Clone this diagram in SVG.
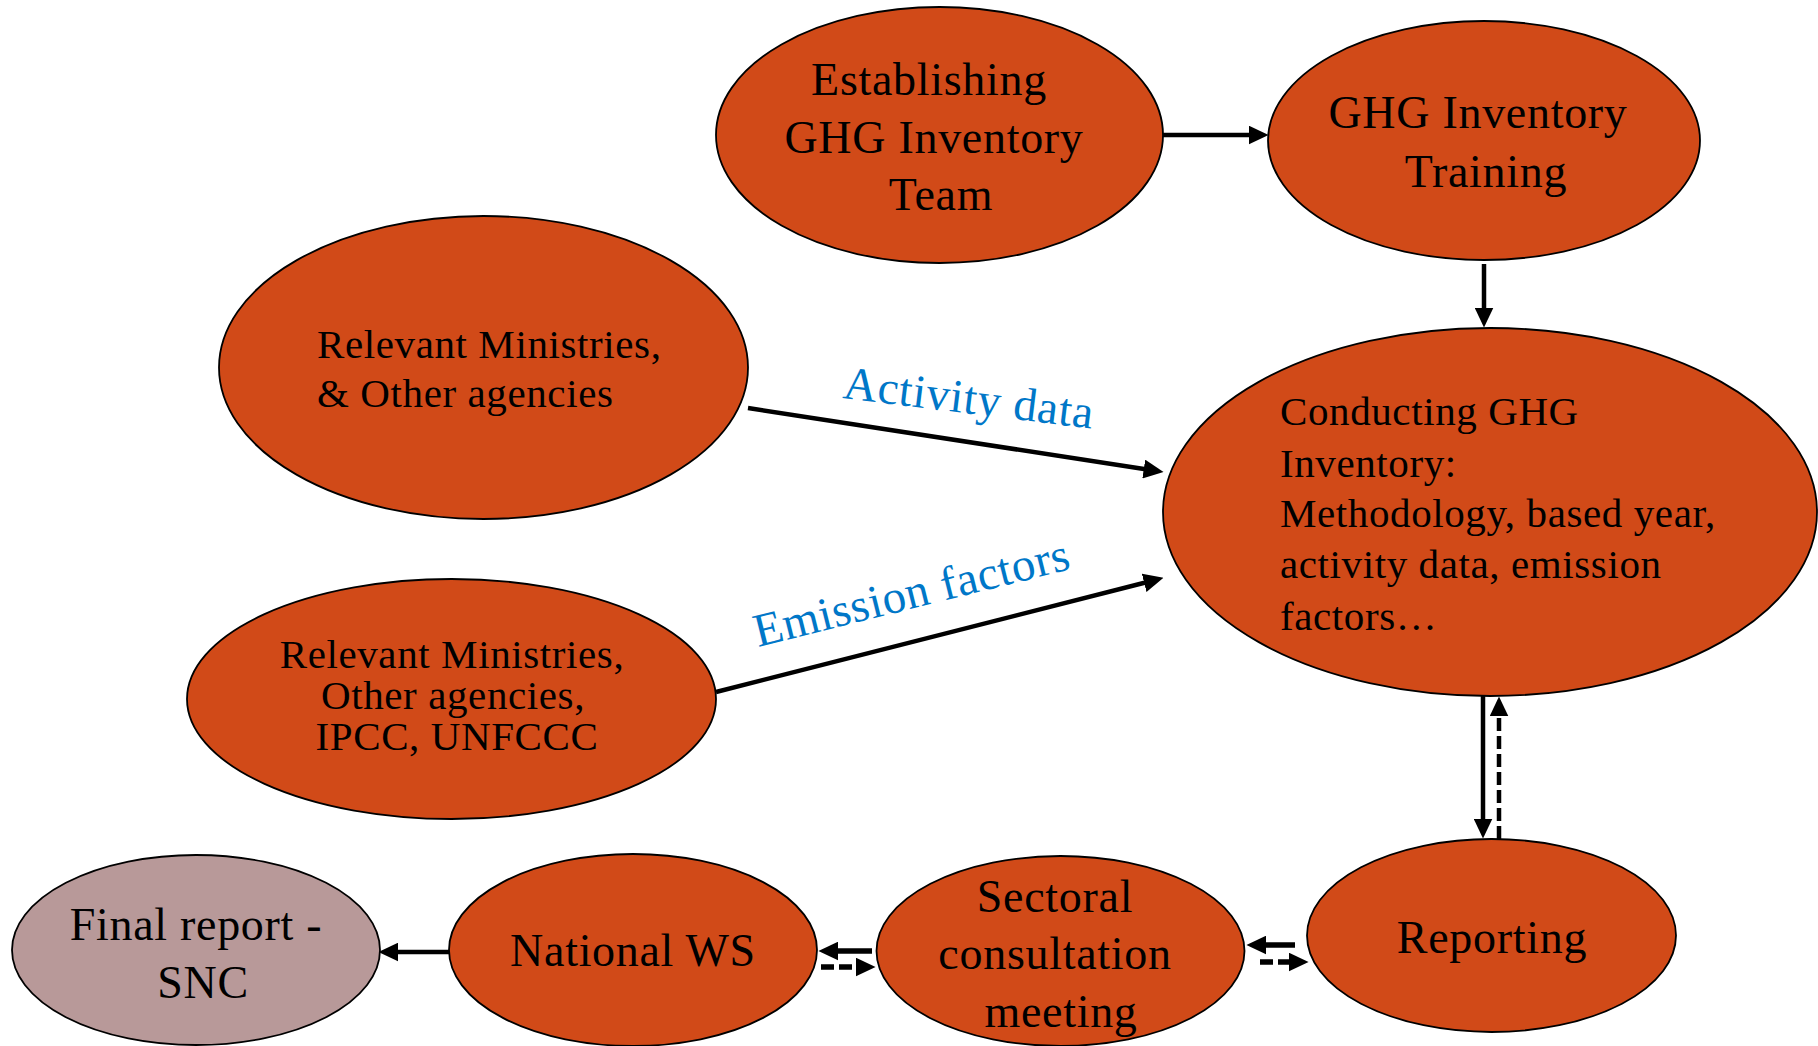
<svg xmlns="http://www.w3.org/2000/svg" width="1818" height="1046" viewBox="0 0 1818 1046">
<style>
.n{fill:#D14A18;stroke:#000;stroke-width:1.8}
.f{fill:#B89999;stroke:#000;stroke-width:1.8}
text{font-family:"Liberation Serif","Times New Roman",serif;fill:#000}
.big{font-size:46px;letter-spacing:0.7px;text-anchor:middle}
.mid{font-size:41px;letter-spacing:0.6px}
.midc{font-size:41px;letter-spacing:0.6px;text-anchor:middle}
.lbl{font-size:47px;letter-spacing:0.6px;fill:#0077C8}
.c{stroke:#000;stroke-width:4.5;fill:none;marker-end:url(#ah)}
.c5{stroke:#000;stroke-width:5.5;fill:none;marker-end:url(#ah)}
.d{stroke-dasharray:13 5}
</style>
<defs>
<marker id="ah" markerUnits="userSpaceOnUse" markerWidth="20" markerHeight="19" viewBox="0 0 19 18" refX="8" refY="9" orient="auto">
<path d="M0,0 L19,9 L0,18 z" fill="#000"/>
</marker>
</defs>
<rect width="1818" height="1046" fill="#fff"/>
<g id="connectors">
<line class="c" x1="1163" y1="135" x2="1257" y2="135"/>
<line class="c" x1="1484" y1="264" x2="1484" y2="316"/>
<line class="c" x1="748" y1="408" x2="1152.1" y2="470.3"/>
<line class="c" x1="716" y1="692" x2="1152.3" y2="580.7"/>
<line class="c" x1="1483" y1="696" x2="1483" y2="827"/>
<line class="c d" x1="1499" y1="839" x2="1499" y2="708"/>
<line class="c5" x1="1295" y1="945" x2="1258" y2="945"/>
<line class="c5 d" x1="1260" y1="962" x2="1297" y2="962"/>
<line class="c5" x1="872" y1="951" x2="830" y2="951"/>
<line class="c5 d" x1="821" y1="967" x2="864" y2="967"/>
<line class="c" x1="450" y1="952" x2="390" y2="952"/>
<text class="lbl" transform="translate(842,398) rotate(7)">Activity data</text>
<text class="lbl" transform="translate(758,647) rotate(-14)">Emission factors</text>
</g>
<g id="establishing">
<ellipse class="n" cx="939.5" cy="135" rx="223.5" ry="128"/>
<text class="big" x="929" y="95">Establishing</text>
<text class="big" x="934" y="153">GHG Inventory</text>
<text class="big" x="941" y="210">Team</text>
</g>
<g id="training">
<ellipse class="n" cx="1484" cy="140.5" rx="216" ry="119.5"/>
<text class="big" x="1478" y="128">GHG Inventory</text>
<text class="big" x="1486" y="187">Training</text>
</g>
<g id="conducting">
<ellipse class="n" cx="1490" cy="512" rx="327" ry="184"/>
<text class="mid" x="1280" y="425">Conducting GHG</text>
<text class="mid" x="1280" y="477">Inventory:</text>
<text class="mid" x="1280" y="527">Methodology, based year,</text>
<text class="mid" x="1280" y="578">activity data, emission</text>
<text class="mid" x="1280" y="630">factors…</text>
</g>
<g id="ministries1">
<ellipse class="n" cx="483.5" cy="367.5" rx="264.5" ry="151.5"/>
<text class="mid" x="317" y="358">Relevant Ministries,</text>
<text class="mid" x="317" y="407">&amp; Other agencies</text>
</g>
<g id="ministries2">
<ellipse class="n" cx="451.5" cy="699" rx="264.5" ry="120"/>
<text class="midc" x="452" y="668">Relevant Ministries,</text>
<text class="midc" x="453" y="709">Other agencies,</text>
<text class="midc" x="457" y="750">IPCC, UNFCCC</text>
</g>
<g id="reporting">
<ellipse class="n" cx="1491.5" cy="935.5" rx="184.5" ry="96.5"/>
<text class="big" x="1492" y="953">Reporting</text>
</g>
<g id="sectoral">
<ellipse class="n" cx="1060.5" cy="951" rx="184" ry="95"/>
<text class="big" x="1055" y="912">Sectoral</text>
<text class="big" x="1055" y="969">consultation</text>
<text class="big" x="1061" y="1027">meeting</text>
</g>
<g id="national">
<ellipse class="n" cx="633" cy="950" rx="184" ry="96"/>
<text class="big" x="633" y="966">National WS</text>
</g>
<g id="final">
<ellipse class="f" cx="196" cy="950" rx="184" ry="95"/>
<text class="big" x="196" y="940">Final report -</text>
<text class="big" x="203" y="998">SNC</text>
</g>
</svg>
